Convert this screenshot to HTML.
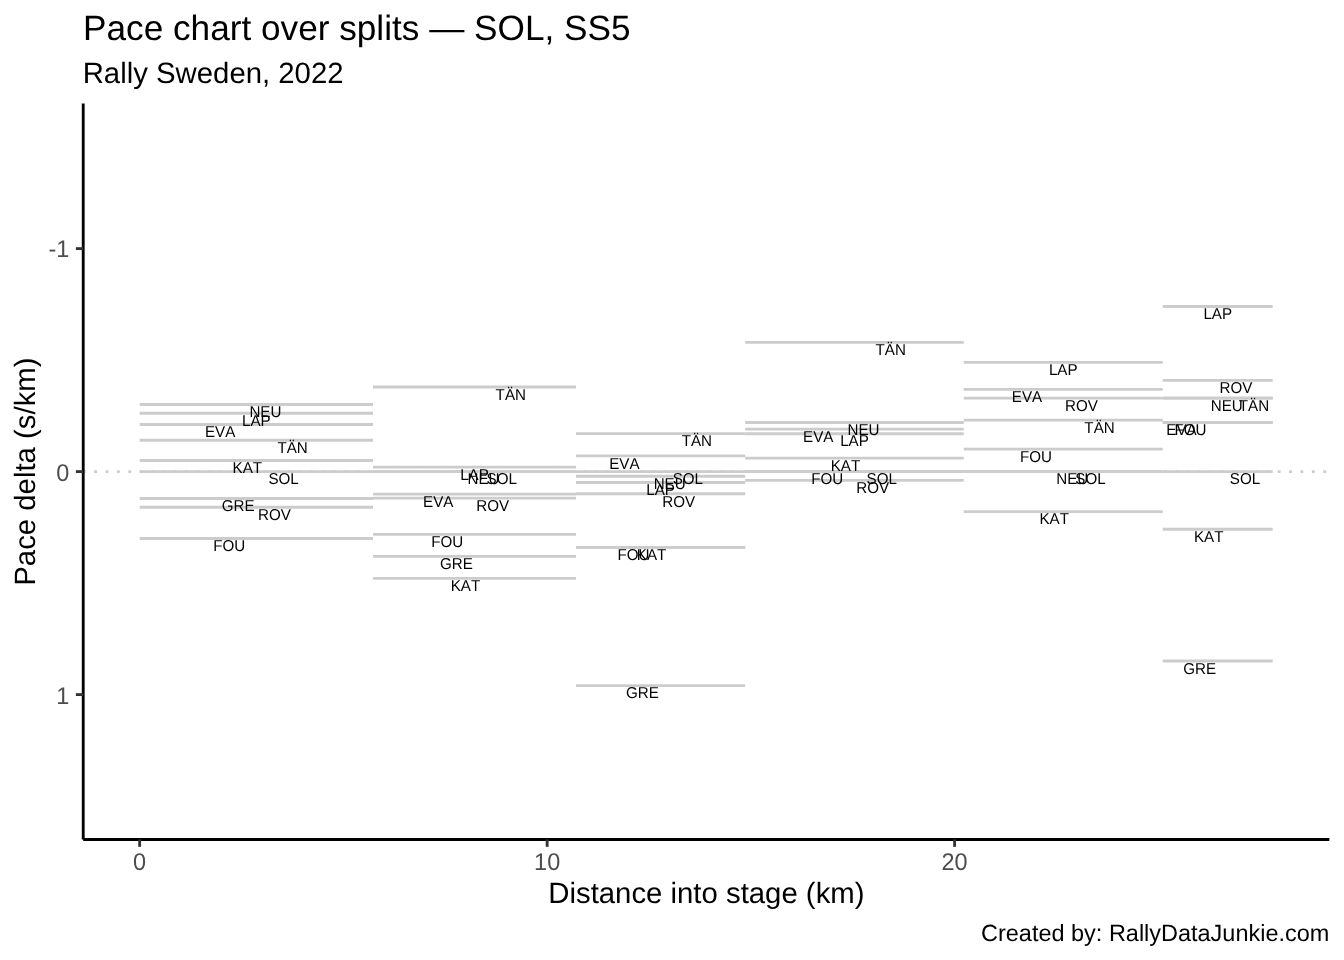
<!DOCTYPE html>
<html lang="en"><head><meta charset="utf-8"><title>Pace chart over splits — SOL, SS5</title>
<style>
html,body{margin:0;padding:0;background:#fff;}
body{width:1344px;height:960px;overflow:hidden;}
svg{display:block;}
text{font-family:"Liberation Sans","DejaVu Sans",sans-serif;text-rendering:geometricPrecision;}
.lab{font-size:15.17px;fill:#000;text-anchor:middle;font-kerning:none;}
.tick{font-size:23.47px;fill:#4d4d4d;}
.seg{stroke:#cccccc;stroke-width:2.845;fill:none;}
.ax{stroke:#000;stroke-width:2.845;fill:none;}
.tk{stroke:#333;stroke-width:2.845;fill:none;}
</style></head><body>
<svg width="1344" height="960" viewBox="0 0 1344 960">
<rect width="1344" height="960" fill="#ffffff"/>
<line x1="82.80" y1="471.60" x2="1329.33" y2="471.60" stroke="#cccccc" stroke-width="2.845" stroke-dasharray="2.845 8.535"/>
<line class="seg" x1="139.70" y1="424.50" x2="373.00" y2="424.50"/>
<line class="seg" x1="139.70" y1="538.50" x2="373.00" y2="538.50"/>
<line class="seg" x1="139.70" y1="498.50" x2="373.00" y2="498.50"/>
<line class="seg" x1="139.70" y1="460.50" x2="373.00" y2="460.50"/>
<line class="seg" x1="139.70" y1="413.25" x2="373.00" y2="413.25"/>
<line class="seg" x1="139.70" y1="404.50" x2="373.00" y2="404.50"/>
<line class="seg" x1="139.70" y1="507.25" x2="373.00" y2="507.25"/>
<line class="seg" x1="139.70" y1="471.60" x2="373.00" y2="471.60"/>
<line class="seg" x1="139.70" y1="440.25" x2="373.00" y2="440.25"/>
<line class="seg" x1="373.00" y1="494.10" x2="576.00" y2="494.10"/>
<line class="seg" x1="373.00" y1="534.30" x2="576.00" y2="534.30"/>
<line class="seg" x1="373.00" y1="556.40" x2="576.00" y2="556.40"/>
<line class="seg" x1="373.00" y1="578.40" x2="576.00" y2="578.40"/>
<line class="seg" x1="373.00" y1="467.10" x2="576.00" y2="467.10"/>
<line class="seg" x1="373.00" y1="471.60" x2="576.00" y2="471.60"/>
<line class="seg" x1="373.00" y1="498.20" x2="576.00" y2="498.20"/>
<line class="seg" x1="373.00" y1="471.60" x2="576.00" y2="471.60"/>
<line class="seg" x1="373.00" y1="387.00" x2="576.00" y2="387.00"/>
<line class="seg" x1="576.00" y1="455.90" x2="745.20" y2="455.90"/>
<line class="seg" x1="576.00" y1="547.30" x2="745.20" y2="547.30"/>
<line class="seg" x1="576.00" y1="685.60" x2="745.20" y2="685.60"/>
<line class="seg" x1="576.00" y1="547.30" x2="745.20" y2="547.30"/>
<line class="seg" x1="576.00" y1="482.50" x2="745.20" y2="482.50"/>
<line class="seg" x1="576.00" y1="476.25" x2="745.20" y2="476.25"/>
<line class="seg" x1="576.00" y1="493.75" x2="745.20" y2="493.75"/>
<line class="seg" x1="576.00" y1="471.60" x2="745.20" y2="471.60"/>
<line class="seg" x1="576.00" y1="433.60" x2="745.20" y2="433.60"/>
<line class="seg" x1="745.20" y1="429.20" x2="963.75" y2="429.20"/>
<line class="seg" x1="745.20" y1="471.60" x2="963.75" y2="471.60"/>
<line class="seg" x1="745.20" y1="458.10" x2="963.75" y2="458.10"/>
<line class="seg" x1="745.20" y1="433.75" x2="963.75" y2="433.75"/>
<line class="seg" x1="745.20" y1="422.50" x2="963.75" y2="422.50"/>
<line class="seg" x1="745.20" y1="480.40" x2="963.75" y2="480.40"/>
<line class="seg" x1="745.20" y1="471.60" x2="963.75" y2="471.60"/>
<line class="seg" x1="745.20" y1="342.40" x2="963.75" y2="342.40"/>
<line class="seg" x1="963.75" y1="389.40" x2="1162.75" y2="389.40"/>
<line class="seg" x1="963.75" y1="449.20" x2="1162.75" y2="449.20"/>
<line class="seg" x1="963.75" y1="511.60" x2="1162.75" y2="511.60"/>
<line class="seg" x1="963.75" y1="362.40" x2="1162.75" y2="362.40"/>
<line class="seg" x1="963.75" y1="471.60" x2="1162.75" y2="471.60"/>
<line class="seg" x1="963.75" y1="398.10" x2="1162.75" y2="398.10"/>
<line class="seg" x1="963.75" y1="471.60" x2="1162.75" y2="471.60"/>
<line class="seg" x1="963.75" y1="420.20" x2="1162.75" y2="420.20"/>
<line class="seg" x1="1162.75" y1="422.50" x2="1272.70" y2="422.50"/>
<line class="seg" x1="1162.75" y1="422.50" x2="1272.70" y2="422.50"/>
<line class="seg" x1="1162.75" y1="661.00" x2="1272.70" y2="661.00"/>
<line class="seg" x1="1162.75" y1="529.25" x2="1272.70" y2="529.25"/>
<line class="seg" x1="1162.75" y1="306.50" x2="1272.70" y2="306.50"/>
<line class="seg" x1="1162.75" y1="398.10" x2="1272.70" y2="398.10"/>
<line class="seg" x1="1162.75" y1="380.40" x2="1272.70" y2="380.40"/>
<line class="seg" x1="1162.75" y1="471.60" x2="1272.70" y2="471.60"/>
<line class="seg" x1="1162.75" y1="398.10" x2="1272.70" y2="398.10"/>
<text class="lab" transform="translate(220.07,437.00) scale(1,1.04)">EVA</text>
<text class="lab" transform="translate(229.14,551.00) scale(1,1.04)">FOU</text>
<text class="lab" transform="translate(238.21,511.00) scale(1,1.04)">GRE</text>
<text class="lab" transform="translate(247.28,473.00) scale(1,1.04)">KAT</text>
<text class="lab" transform="translate(256.35,426.00) scale(1,1.04)">LAP</text>
<text class="lab" transform="translate(265.42,417.00) scale(1,1.04)">NEU</text>
<text class="lab" transform="translate(274.49,520.00) scale(1,1.04)">ROV</text>
<text class="lab" transform="translate(283.56,484.00) scale(1,1.04)">SOL</text>
<text class="lab" transform="translate(292.63,453.00) scale(1,1.04)">TÄN</text>
<text class="lab" transform="translate(438.22,507.00) scale(1,1.04)">EVA</text>
<text class="lab" transform="translate(447.29,547.00) scale(1,1.04)">FOU</text>
<text class="lab" transform="translate(456.36,569.00) scale(1,1.04)">GRE</text>
<text class="lab" transform="translate(465.43,591.00) scale(1,1.04)">KAT</text>
<text class="lab" transform="translate(474.50,480.00) scale(1,1.04)">LAP</text>
<text class="lab" transform="translate(483.57,484.00) scale(1,1.04)">NEU</text>
<text class="lab" transform="translate(492.64,511.00) scale(1,1.04)">ROV</text>
<text class="lab" transform="translate(501.71,484.00) scale(1,1.04)">SOL</text>
<text class="lab" transform="translate(510.78,400.00) scale(1,1.04)">TÄN</text>
<text class="lab" transform="translate(624.32,469.00) scale(1,1.04)">EVA</text>
<text class="lab" transform="translate(633.39,560.00) scale(1,1.04)">FOU</text>
<text class="lab" transform="translate(642.46,698.00) scale(1,1.04)">GRE</text>
<text class="lab" transform="translate(651.53,560.00) scale(1,1.04)">KAT</text>
<text class="lab" transform="translate(660.60,495.00) scale(1,1.04)">LAP</text>
<text class="lab" transform="translate(669.67,489.00) scale(1,1.04)">NEU</text>
<text class="lab" transform="translate(678.74,507.00) scale(1,1.04)">ROV</text>
<text class="lab" transform="translate(687.81,484.00) scale(1,1.04)">SOL</text>
<text class="lab" transform="translate(696.88,446.00) scale(1,1.04)">TÄN</text>
<text class="lab" transform="translate(818.20,442.00) scale(1,1.04)">EVA</text>
<text class="lab" transform="translate(827.26,484.00) scale(1,1.04)">FOU</text>
<text class="lab" transform="translate(845.40,471.00) scale(1,1.04)">KAT</text>
<text class="lab" transform="translate(854.48,446.00) scale(1,1.04)">LAP</text>
<text class="lab" transform="translate(863.55,435.00) scale(1,1.04)">NEU</text>
<text class="lab" transform="translate(872.62,493.00) scale(1,1.04)">ROV</text>
<text class="lab" transform="translate(881.69,484.00) scale(1,1.04)">SOL</text>
<text class="lab" transform="translate(890.75,355.00) scale(1,1.04)">TÄN</text>
<text class="lab" transform="translate(1026.97,402.00) scale(1,1.04)">EVA</text>
<text class="lab" transform="translate(1036.04,462.00) scale(1,1.04)">FOU</text>
<text class="lab" transform="translate(1054.18,524.00) scale(1,1.04)">KAT</text>
<text class="lab" transform="translate(1063.25,375.00) scale(1,1.04)">LAP</text>
<text class="lab" transform="translate(1072.32,484.00) scale(1,1.04)">NEU</text>
<text class="lab" transform="translate(1081.39,411.00) scale(1,1.04)">ROV</text>
<text class="lab" transform="translate(1090.46,484.00) scale(1,1.04)">SOL</text>
<text class="lab" transform="translate(1099.53,433.00) scale(1,1.04)">TÄN</text>
<text class="lab" transform="translate(1181.44,435.00) scale(1,1.04)">EVA</text>
<text class="lab" transform="translate(1190.51,435.00) scale(1,1.04)">FOU</text>
<text class="lab" transform="translate(1199.58,674.00) scale(1,1.04)">GRE</text>
<text class="lab" transform="translate(1208.65,542.00) scale(1,1.04)">KAT</text>
<text class="lab" transform="translate(1217.72,319.00) scale(1,1.04)">LAP</text>
<text class="lab" transform="translate(1226.79,411.00) scale(1,1.04)">NEU</text>
<text class="lab" transform="translate(1235.87,393.00) scale(1,1.04)">ROV</text>
<text class="lab" transform="translate(1244.93,484.00) scale(1,1.04)">SOL</text>
<text class="lab" transform="translate(1254.00,411.00) scale(1,1.04)">TÄN</text>
<line class="ax" x1="83.22" y1="103.60" x2="83.22" y2="839.50"/>
<line class="ax" x1="83.22" y1="839.50" x2="1329.33" y2="839.50"/>
<line class="tk" x1="75.89" y1="248.60" x2="83.22" y2="248.60"/>
<text class="tick" text-anchor="end" transform="translate(69.30,257.10) scale(1,1.03)">-1</text>
<line class="tk" x1="75.89" y1="471.60" x2="83.22" y2="471.60"/>
<text class="tick" text-anchor="end" transform="translate(69.30,480.85) scale(1,1.03)">0</text>
<line class="tk" x1="75.89" y1="694.60" x2="83.22" y2="694.60"/>
<text class="tick" text-anchor="end" transform="translate(69.30,704.00) scale(1,1.03)">1</text>
<line class="tk" x1="139.65" y1="839.50" x2="139.65" y2="846.83"/>
<text class="tick" text-anchor="middle" transform="translate(139.65,870.00) scale(1,1.03)">0</text>
<line class="tk" x1="547.15" y1="839.50" x2="547.15" y2="846.83"/>
<text class="tick" text-anchor="middle" transform="translate(547.15,870.00) scale(1,1.03)">10</text>
<line class="tk" x1="954.60" y1="839.50" x2="954.60" y2="846.83"/>
<text class="tick" text-anchor="middle" transform="translate(954.60,870.00) scale(1,1.03)">20</text>
<text x="83.0" y="39.9" font-size="35.2px" fill="#000">Pace chart over splits — SOL, SS5</text>
<text x="82.7" y="83.06" font-size="29.33px" fill="#000">Rally Sweden, 2022</text>
<text x="706.4" y="902.9" font-size="29.33px" fill="#000" text-anchor="middle">Distance into stage (km)</text>
<text transform="translate(35.2,471.6) rotate(-90)" font-size="29.33px" fill="#000" text-anchor="middle">Pace delta (s/km)</text>
<text x="1329.33" y="940.5" font-size="23.47px" fill="#000" text-anchor="end">Created by: RallyDataJunkie.com</text>
</svg>
</body></html>
